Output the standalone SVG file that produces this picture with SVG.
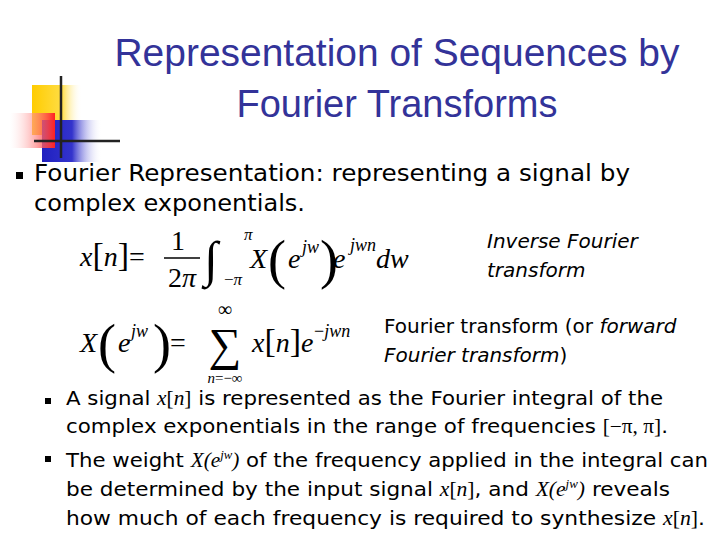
<svg xmlns="http://www.w3.org/2000/svg" width="720" height="540" viewBox="0 0 720 540">
<defs>
<linearGradient id="gy" x1="0" x2="1"><stop offset="0" stop-color="#ffcc00"/><stop offset="0.6" stop-color="#ffdd44"/><stop offset="1" stop-color="#fff" stop-opacity="0"/></linearGradient>
<linearGradient id="gr" x1="1" x2="0"><stop offset="0" stop-color="#ff2020"/><stop offset="1" stop-color="#fff" stop-opacity="0.2"/></linearGradient>
<linearGradient id="gb" x1="0" x2="1"><stop offset="0" stop-color="#2020c0"/><stop offset="0.5" stop-color="#3333cc"/><stop offset="1" stop-color="#fff" stop-opacity="0"/></linearGradient>
<style>
.t{font-family:"Liberation Sans",Arial,sans-serif;font-size:38px;fill:#333399;text-anchor:middle}
.b{font-family:"DejaVu Sans",sans-serif;fill:#000}
.m{font-family:"Liberation Serif","Times New Roman",serif;fill:#000}
.i{font-style:italic}
</style>
</defs>
<g id="logo">
<rect x="32" y="85" width="50" height="50" fill="url(#gy)"/>
<rect x="42" y="120" width="60" height="42" fill="url(#gb)"/>
<rect x="10" y="113" width="45" height="35" fill="url(#gr)"/>
<line x1="61" y1="76" x2="61" y2="158" stroke="#222" stroke-width="2.5"/>
<line x1="34" y1="141" x2="120" y2="141" stroke="#222" stroke-width="2.5"/>
</g>
<g id="title">
<text class="t" x="397" y="66" textLength="565" lengthAdjust="spacingAndGlyphs">Representation of Sequences by</text>
<text class="t" x="397" y="117">Fourier Transforms</text>
</g>
<g id="intro">
<rect x="16" y="172" width="7" height="7" fill="#000"/>
<text class="b" font-size="23" x="34" y="181" textLength="596" lengthAdjust="spacingAndGlyphs">Fourier Representation: representing a signal by</text>
<text class="b" font-size="23" x="34" y="211" textLength="271" lengthAdjust="spacingAndGlyphs">complex exponentials.</text>
</g>
<g id="eq1" class="m">
<text font-size="28" x="80" y="266"><tspan class="i">x</tspan><tspan font-size="34">[</tspan><tspan class="i">n</tspan><tspan font-size="34">]</tspan>=</text>
<text font-size="28" x="178" y="250" text-anchor="middle">1</text>
<line x1="164" y1="258" x2="200" y2="258" stroke="#000" stroke-width="1.5"/>
<text font-size="28" x="182" y="287" text-anchor="middle">2<tspan class="i">π</tspan></text>
<text font-size="50" x="204" y="276">∫</text>
<text font-size="17" x="244" y="240" class="i">π</text>
<text font-size="17" x="224" y="285">−<tspan class="i">π</tspan></text>
<text font-size="28" x="250" y="268" class="i">X</text>
<text font-size="54" x="268" y="278">(</text>
<text font-size="28" x="288" y="268" class="i">e</text>
<text font-size="18" x="302" y="253" class="i">jw</text>
<text font-size="54" x="320" y="278">)</text>
<text font-size="28" x="333" y="268" class="i">e</text>
<text font-size="18" x="350" y="251" class="i">jwn</text>
<text font-size="28" x="376" y="268" class="i">dw</text>
</g>
<g id="label1" class="b i">
<text font-size="20" x="487" y="248">Inverse Fourier</text>
<text font-size="20" x="487" y="277">transform</text>
</g>
<g id="eq2" class="m">
<text font-size="28" x="80" y="352" class="i">X</text>
<text font-size="54" x="98" y="362">(</text>
<text font-size="28" x="118" y="352" class="i">e</text>
<text font-size="18" x="131" y="337" class="i">jw</text>
<text font-size="54" x="153" y="362">)</text>
<text font-size="28" x="170" y="352">=</text>
<text font-size="46" x="225" y="360" text-anchor="middle">∑</text>
<text font-size="20" x="225" y="316" text-anchor="middle">∞</text>
<text font-size="15" x="225" y="383" text-anchor="middle"><tspan class="i">n</tspan>=−∞</text>
<text font-size="28" x="252" y="352"><tspan class="i">x</tspan><tspan font-size="34">[</tspan><tspan class="i">n</tspan><tspan font-size="34">]</tspan><tspan class="i">e</tspan></text>
<text font-size="18" x="314" y="337">−<tspan class="i">jwn</tspan></text>
</g>
<g id="label2" class="b">
<text font-size="20" x="384" y="333">Fourier transform (or <tspan class="i">forward</tspan></text>
<text font-size="20" x="384" y="362"><tspan class="i">Fourier transform</tspan>)</text>
</g>
<g id="bullets" font-size="20">
<rect x="45" y="398" width="6" height="6" fill="#000"/>
<rect x="45" y="456" width="6" height="6" fill="#000"/>
<text class="b" x="66" y="405" textLength="597" lengthAdjust="spacingAndGlyphs">A signal <tspan class="m i">x</tspan><tspan class="m">[</tspan><tspan class="m i">n</tspan><tspan class="m">]</tspan> is represented as the Fourier integral of the</text>
<text class="b" x="66" y="433" textLength="602" lengthAdjust="spacingAndGlyphs">complex exponentials in the range of frequencies <tspan class="m">[−π, π]</tspan>.</text>
<text class="b" x="66" y="467" textLength="642" lengthAdjust="spacingAndGlyphs">The weight <tspan class="m i">X(e<tspan font-size="12" dy="-8">jw</tspan><tspan dy="8">)</tspan></tspan> of the frequency applied in the integral can</text>
<text class="b" x="66" y="496" textLength="604" lengthAdjust="spacingAndGlyphs">be determined by the input signal <tspan class="m i">x</tspan><tspan class="m">[</tspan><tspan class="m i">n</tspan><tspan class="m">]</tspan>, and <tspan class="m i">X(e<tspan font-size="12" dy="-8">jw</tspan><tspan dy="8">)</tspan></tspan> reveals</text>
<text class="b" x="66" y="525" textLength="639" lengthAdjust="spacingAndGlyphs">how much of each frequency is required to synthesize <tspan class="m i">x</tspan><tspan class="m">[</tspan><tspan class="m i">n</tspan><tspan class="m">]</tspan>.</text>
</g>
</svg>
